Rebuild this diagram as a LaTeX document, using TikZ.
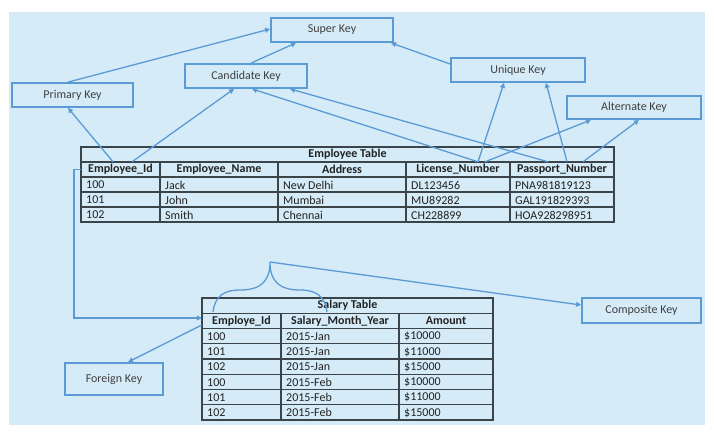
\documentclass[tikz,border=0pt]{standalone}
\usepackage{fontspec}
\setmainfont{Carlito}
\usetikzlibrary{arrows.meta}
\definecolor{bgblue}{HTML}{D5EBF7}
\definecolor{boxblue}{HTML}{5B9BD5}
\definecolor{labelgray}{HTML}{404040}
\definecolor{tabline}{HTML}{3A4449}
\definecolor{tabtext}{HTML}{222222}
\tikzset{
  keybox/.style={draw=boxblue, line width=1.8pt, fill=bgblue, inner sep=0pt,
    text=labelgray, font=\fontsize{12}{14}\selectfont},
  conn/.style={draw=boxblue, line width=1.3pt, -{Triangle[length=5pt,width=5pt]}},
  hdr/.style={inner sep=0pt, text=tabtext, font=\fontsize{12}{14}\selectfont\bfseries, minimum height=15pt},
  dat/.style={inner sep=0pt, anchor=west, text=tabtext, font=\fontsize{12}{14}\selectfont},
  grid/.style={draw=tabline, line width=1.1pt},
}
\begin{document}
\begin{tikzpicture}[x=1pt,y=-1pt]
\useasboundingbox (0,0) rectangle (714,436);
\fill[white] (0,0) rectangle (714,436);
\fill[bgblue] (9,12) rectangle (705,425);

% key boxes
\node[keybox, minimum width=122pt, minimum height=24pt] (sk) at (332,30) {Super Key};
\node[keybox, minimum width=122pt, minimum height=24pt] (ck) at (246,76) {Candidate Key};
\node[keybox, minimum width=121pt, minimum height=24pt] (pk) at (72.5,95) {Primary Key};
\node[keybox, minimum width=134pt, minimum height=24pt] (uk) at (518,70) {Unique Key};
\node[keybox, minimum width=134pt, minimum height=23pt] (ak) at (634,107.5) {Alternate Key};
\node[keybox, minimum width=119pt, minimum height=25pt] (cpk) at (641.5,310.5) {Composite Key};
\node[keybox, minimum width=98pt, minimum height=32pt] (fk) at (114,379) {Foreign Key};

% employee table grid
\draw[grid] (81,147) rectangle (614,222);
\foreach \yy in {162,177,192,207} \draw[grid] (81,\yy) -- (614,\yy);
\foreach \xx in {160,278,406,510} \draw[grid] (\xx,162) -- (\xx,222);
\node[hdr] (etitle) at (347.5,154.5) {Employee Table};
\node[hdr, minimum width=79pt] (eid) at (120.5,169.5) {Employee\_Id};
\node[hdr, minimum width=118pt] (ename) at (219,169.5) {Employee\_Name};
\node[hdr, minimum width=128pt] (eaddr) at (342,169.5) {Address};
\node[hdr, minimum width=104pt] (lic) at (458,169.5) {License\_Number};
\node[hdr, minimum width=104pt] (pass) at (562,169.5) {Passport\_Number};
\foreach \r/\a/\b/\c/\d/\e in {1/100/Jack/New Delhi/DL123456/PNA981819123,
  2/101/John/Mumbai/MU89282/GAL191829393,
  3/102/Smith/Chennai/CH228899/HOA928298951}{
  \pgfmathsetmacro\yy{170+15*\r}
  \node[dat] (e\r a) at (86,\yy) {\a};
  \node[dat] (e\r b) at (165,\yy) {\b};
  \node[dat] (e\r c) at (283,\yy) {\c};
  \node[dat] (e\r d) at (411,\yy) {\d};
  \node[dat] (e\r e) at (515,\yy) {\e};
}

% salary table grid
\draw[grid] (202,298) rectangle (493,420);
\foreach \k in {1,...,7} \draw[grid] (202,298+15.25*\k) -- (493,298+15.25*\k);
\foreach \xx in {281,399} \draw[grid] (\xx,313.25) -- (\xx,420);
\node[hdr] (stitle) at (347.5,305.6) {Salary Table};
\node[hdr, minimum width=79pt] (sid) at (241.5,320.9) {Employe\_Id};
\node[hdr, minimum width=118pt] (smy) at (340,320.9) {Salary\_Month\_Year};
\node[hdr, minimum width=94pt] (samt) at (446,320.9) {Amount};
\foreach \r/\a/\b/\c in {1/100/2015-Jan/\$10000, 2/101/2015-Jan/\$11000,
  3/102/2015-Jan/\$15000, 4/100/2015-Feb/\$10000, 5/101/2015-Feb/\$11000,
  6/102/2015-Feb/\$15000}{
  \pgfmathsetmacro\yy{328.5+15.25*\r-7.2}
  \node[dat] (s\r a) at (207,\yy) {\a};
  \node[dat] (s\r b) at (286,\yy) {\b};
  \node[dat] (s\r c) at (404,\yy) {\c};
}

% connectors between keys
\draw[conn] (pk.north -| 68,0) -- (sk.west |- 0,29);
\draw[conn] (ck.north -| 251,0) -- (sk.south -| 296,0);
\draw[conn] (uk.west |- 0,64) -- (sk.south -| 391,0);

% connectors from employee table
\draw[conn] (eid.north -| 113,0) -- (pk.south -| 68,0);
\draw[conn] (eid.north -| 132,0) -- (ck.south -| 234,0);
\draw[conn] (lic.north -| 478,0) -- (ck.south -| 252,0);
\draw[conn] (lic.north -| 478,0) -- (uk.south -| 504,0);
\draw[conn] (lic.north -| 485,0) -- (ak.south -| 591,0);
\draw[conn] (pass.north -| 548,0) -- (ck.south -| 290,0);
\draw[conn] (pass.north -| 567,0) -- (uk.south -| 546,0);
\draw[conn] (pass.north -| 583,0) -- (ak.south -| 639,0);

% foreign key links
\draw[conn] (eid.west) -| (74,318) -- (sid.west |- 0,318);
\draw[conn] (sid.west |- 0,325) -- (fk.north -| 128,0);

% composite key brace
\coordinate (bl) at (213,312);
\coordinate (br) at (327,312);
\coordinate (btip) at (270,262);
\draw[boxblue, line width=1.3pt] (bl) .. controls (215,296) and (224,290) .. (240,290)
  .. controls (261,290) and (270,281) .. (btip)
  .. controls (270,281) and (279,290) .. (300,290)
  .. controls (316,290) and (325,296) .. (br);
\draw[conn] (btip) -- (cpk.west |- 0,305);
\end{tikzpicture}
\end{document}
